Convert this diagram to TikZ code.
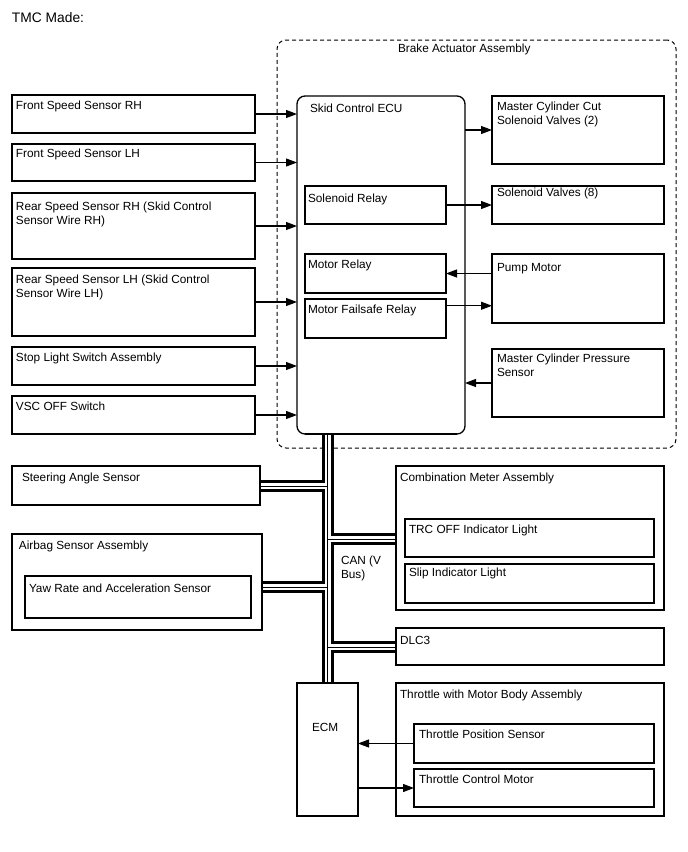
\documentclass[tikz,border=0pt]{standalone}
\usepackage{fontspec}
\setmainfont{Liberation Sans}
\usetikzlibrary{arrows.meta,calc}
\tikzset{
  box/.style={draw, line width=1.3pt, inner sep=0pt, outer sep=0pt},
  lbl/.style={anchor=north west, inner sep=0pt, outer sep=0pt, align=left, font=\fontsize{11.8}{14}\selectfont},
  arr/.style={line width=1.1pt, -{Triangle[length=11pt,width=8pt]}},
  busA/.style={line width=12pt, black},
  busB/.style={line width=6pt, white},
  busC/.style={line width=1pt, black},
}
\newcommand\mybox[6][]{\node[box,#1,minimum width=#5pt,minimum height=#6pt] (#2) at ({#3+#5/2},{#4+#6/2}) {};}
\newcommand\mylbl[4]{\node[lbl] (#1) at (#2,{#3-9.8}) {\strut #4};}
\begin{document}
\begin{tikzpicture}[x=1pt,y=-1pt]
\fill[white] (0,0) rectangle (688,852);
\useasboundingbox (0,0) rectangle (688,852);

% boxes (positions)
\mybox[dash pattern=on 4pt off 3pt, line width=1pt, rounded corners=9pt]{baa}{277}{40}{399}{408}
\mybox[rounded corners=8pt]{ecu}{297}{96}{168}{338}
\mybox{fsrh}{12}{95}{243}{38}
\mybox{fslh}{12}{144}{243}{37}
\mybox{rsrh}{12}{193}{243}{66}
\mybox{rslh}{12}{268}{243}{68}
\mybox{sls}{12}{347}{243}{38}
\mybox{vsc}{12}{396}{243}{38}
\mybox{sr}{305}{186}{141}{38}
\mybox{mr}{305}{254}{141}{39}
\mybox{mfr}{305}{299}{141}{39}
\mybox{mcc}{492}{96}{172}{68}
\mybox{sv}{492}{186}{172}{38}
\mybox{pm}{492}{254}{172}{69}
\mybox{mcps}{492}{349}{172}{68}
\mybox{sas}{12}{466}{248}{39}
\mybox{abs}{12}{534}{250}{96}
\mybox{yaw}{25}{576}{226}{42}
\mybox{cma}{396}{466}{268}{144}
\mybox{trc}{405}{519}{249}{38}
\mybox{slip}{405}{564}{249}{39}
\mybox{dlc}{396}{628}{268}{37}
\mybox{ecm}{297}{683}{61}{133}
\mybox{thr}{396}{683}{268}{133}
\mybox{tps}{414}{724}{240}{39}
\mybox{tcm}{414}{769}{240}{38}

% CAN bus
\coordinate (jS) at (327.5,486);
\coordinate (jA) at (327.5,587);
\coordinate (jC) at (327.5,539);
\coordinate (jD) at (327.5,647);
\foreach \s in {busA,busB,busC}{
  \draw[\s] (ecm.north) -- (ecm.north |- ecu.south);
  \draw[\s] (sas.east |- jS) -- (jS);
  \draw[\s] (abs.east |- jA) -- (jA);
  \draw[\s] (jC) -- (cma.west |- jC);
  \draw[\s] (jD) -- (dlc.west |- jD);
}
% redraw box borders touching the bus
\draw[line width=1.3pt] (ecu.south west) ++(8,0) -- ([xshift=-8pt]ecu.south east);
\draw[line width=1.3pt] (sas.north east) -- (sas.south east);
\draw[line width=1.3pt] (abs.north east) -- (abs.south east);
\draw[line width=1.3pt] (cma.north west) -- (cma.south west);
\draw[line width=1.3pt] (dlc.north west) -- (dlc.south west);
\draw[line width=1.3pt] (ecm.north west) -- (ecm.north east);

% arrows
\draw[arr] (fsrh.east) -- (fsrh.east -| ecu.west);
\draw[arr] (fslh.east) -- (fslh.east -| ecu.west);
\draw[arr] (rsrh.east) -- (rsrh.east -| ecu.west);
\draw[arr] (rslh.east) -- (rslh.east -| ecu.west);
\draw[arr] (sls.east) -- (sls.east -| ecu.west);
\draw[arr] (vsc.east) -- (vsc.east -| ecu.west);
\draw[arr] (mcc.west -| ecu.east) -- (mcc.west);
\draw[arr] (sr.east) -- (sr.east -| sv.west);
\draw[arr] (mr.east -| pm.west) -- (mr.east);
\coordinate (pmin) at ($(pm.north west)!0.75!(pm.south west)$);
\draw[arr] (pmin -| mfr.east) -- (pmin);
\draw[arr] (mcps.west) -- (mcps.west -| ecu.east);
\draw[arr] (tps.west) -- (tps.west -| ecm.east);
\draw[arr] (tcm.west -| ecm.east) -- (tcm.west);

% labels
\node[lbl, font=\fontsize{13.8}{16}\selectfont] (tTitle) at (12,{22-11.2}) {\strut TMC Made:};
\mylbl{tBAA}{398}{52}{Brake Actuator Assembly}
\mylbl{tFSRH}{16}{109}{Front Speed Sensor RH}
\mylbl{tFSLH}{16}{157}{Front Speed Sensor LH}
\mylbl{tRSRH}{16}{210}{Rear Speed Sensor RH (Skid Control\\\strut Sensor Wire RH)}
\mylbl{tRSLH}{16}{283}{Rear Speed Sensor LH (Skid Control\\\strut Sensor Wire LH)}
\mylbl{tSLS}{16}{361}{Stop Light Switch Assembly}
\mylbl{tVSC}{16}{410}{VSC OFF Switch}
\mylbl{tECU}{310}{112}{Skid Control ECU}
\mylbl{tSR}{308}{202}{Solenoid Relay}
\mylbl{tMR}{308}{268}{Motor Relay}
\mylbl{tMFR}{308}{313}{Motor Failsafe Relay}
\mylbl{tMCC}{497}{110}{Master Cylinder Cut\\\strut Solenoid Valves (2)}
\mylbl{tSV}{497}{196}{Solenoid Valves (8)}
\mylbl{tPM}{497}{271}{Pump Motor}
\mylbl{tMCPS}{497}{362}{Master Cylinder Pressure\\\strut Sensor}
\mylbl{tSAS}{22}{481}{Steering Angle Sensor}
\mylbl{tABS}{19}{549}{Airbag Sensor Assembly}
\mylbl{tYAW}{29}{592}{Yaw Rate and Acceleration Sensor}
\mylbl{tCMA}{400}{481}{Combination Meter Assembly}
\mylbl{tTRC}{409}{533}{TRC OFF Indicator Light}
\mylbl{tSLIP}{409}{576}{Slip Indicator Light}
\mylbl{tDLC}{400}{644}{DLC3}
\mylbl{tTHR}{400}{698}{Throttle with Motor Body Assembly}
\mylbl{tTPS}{419}{738}{Throttle Position Sensor}
\mylbl{tTCM}{419}{783}{Throttle Control Motor}
\mylbl{tECM}{312}{731}{ECM}
\mylbl{tCAN}{341}{564}{CAN (V\\\strut Bus)}
\end{tikzpicture}
\end{document}
